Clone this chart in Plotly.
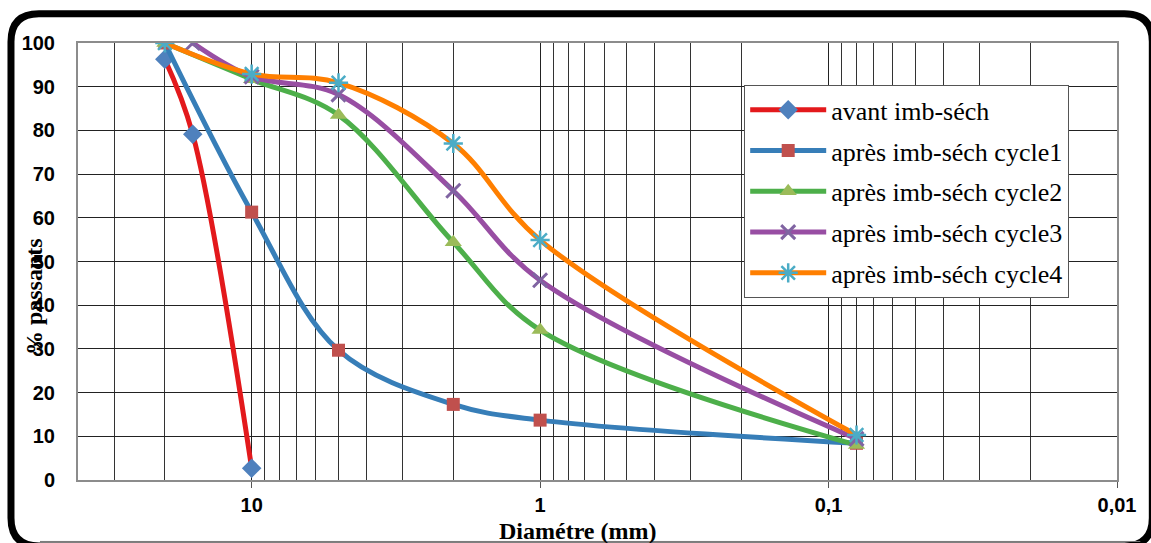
import math
import plotly.graph_objects as go

# ---- data ----
diam_avant = [20, 16, 10]
pass_avant = [96.3, 79.1, 2.7]

diam_cycles = [20, 10, 5, 2, 1, 0.08]
diam_cycle3 = [16, 10, 5, 2, 1, 0.08]
pass_cycle1 = [100, 61.3, 29.7, 17.3, 13.7, 8.4]
pass_cycle2 = [100, 91.7, 83.5, 54.4, 34.3, 8.0]
pass_cycle3 = [100, 92.3, 88.2, 66.2, 45.7, 9.4]
pass_cycle4 = [100, 92.9, 90.9, 77.0, 54.9, 10.3]

names = ["avant imb-séch", "après imb-séch cycle1", "après imb-séch cycle2",
         "après imb-séch cycle3", "après imb-séch cycle4"]
tick_vals = [10, 1, 0.1, 0.01]
tick_text = ["10", "1", "0,1", "0,01"]

W, H = 1151, 543
L, R, T, B = 78, 34.3, 42.7, 63
PW, PH = W - L - R, H - T - B


def px(xp):
    return (xp - L) / PW


def py(yp):
    return (H - B - yp) / PH


fig = go.Figure()
specs = [
    (diam_avant, pass_avant, "#E3191C", dict(symbol="diamond", size=15, color="#4F81BD")),
    (diam_cycles, pass_cycle1, "#377EB8", dict(symbol="square", size=13, color="#C0504D")),
    (diam_cycles, pass_cycle2, "#4DAF4A", dict(symbol="triangle-up", size=15, color="#9BBB59")),
    (diam_cycle3, pass_cycle3, "#984EA3", dict(symbol="x-thin-open", size=14, color="#8064A2", line=dict(width=3, color="#8064A2"))),
    (diam_cycles, pass_cycle4, "#FF7F00", dict(symbol="asterisk-open", size=16, color="#4BACC6", line=dict(width=2.5, color="#4BACC6"))),
]
for i, (xs, ys, lc, mk) in enumerate(specs):
    fig.add_trace(go.Scatter(
        x=xs, y=ys, mode="lines+markers", name=names[i], legendgroup=str(i),
        line=dict(color=lc, width=5, shape="spline", smoothing=1.0),
        marker=mk,
    ))

minor_vals = [m * 10 ** e for e in range(-2, 2) for m in range(2, 10)]

fig.update_xaxes(
    type="log", range=[math.log10(40), -2], autorange=False,
    tickvals=tick_vals, ticktext=tick_text,
    ticks="outside", ticklen=6, tickcolor="#555", tickwidth=1,
    tickfont=dict(family="Liberation Sans", size=20, color="black", weight="bold"),
    showgrid=True, gridcolor="#222", gridwidth=1,
    minor=dict(tickvals=minor_vals, showgrid=True, gridcolor="#333", gridwidth=1, ticks=""),
    showline=True, mirror=True, linecolor="#8c8c8c", linewidth=2,
    zeroline=False, ticklabelstandoff=0,
)
fig.update_yaxes(
    range=[0, 100], dtick=10, autorange=False,
    tickfont=dict(family="Liberation Sans", size=20, color="black", weight="bold"),
    showgrid=True, gridcolor="#222", gridwidth=1,
    showline=True, mirror=True, linecolor="#8c8c8c", linewidth=2,
    zeroline=False, ticks="", ticklabelstandoff=17,
)

# axis titles
fig.add_annotation(text="Diamétre (mm)", xref="paper", yref="paper",
                   x=px(577), y=py(531), xanchor="center", yanchor="middle",
                   showarrow=False,
                   font=dict(family="Liberation Serif", size=24, color="black", weight="bold"))
fig.add_annotation(text="% passants", xref="paper", yref="paper",
                   x=px(34), y=py(296), xanchor="center", yanchor="middle",
                   showarrow=False, textangle=-90,
                   font=dict(family="Liberation Serif", size=24, color="black", weight="bold"))

# outer rounded frame
r = 28
x0, x1, y0, y1 = 11, 1152, 13.5, 546
path = (f"M {px(x0)},{py(y0 + r)} Q {px(x0)},{py(y0)} {px(x0 + r)},{py(y0)} "
        f"L {px(x1 - r)},{py(y0)} Q {px(x1)},{py(y0)} {px(x1)},{py(y0 + r)} "
        f"L {px(x1)},{py(y1 - r)} Q {px(x1)},{py(y1)} {px(x1 - r)},{py(y1)} "
        f"L {px(x0 + r)},{py(y1)} Q {px(x0)},{py(y1)} {px(x0)},{py(y1 - r)} Z")
fig.add_shape(type="path", path=path, xref="paper", yref="paper",
              line=dict(color="black", width=7))
fig.add_shape(type="line", xref="paper", yref="paper",
              x0=px(40), x1=px(1140), y0=py(541.5), y1=py(541.5),
              line=dict(color="#777", width=1))

fig.update_layout(
    width=W, height=H,
    margin=dict(l=L, r=R, t=T, b=B),
    paper_bgcolor="white", plot_bgcolor="white",
    showlegend=True,
    legend=dict(
        x=px(744), y=py(85), xanchor="left", yanchor="top",
        bgcolor="white", bordercolor="#555", borderwidth=1,
        font=dict(family="Liberation Serif", size=26, color="black"),
        traceorder="grouped", tracegroupgap=4, itemwidth=76,
        entrywidth=345, entrywidthmode="pixels",
    ),
)

fig.write_html("out.html", config={"displayModeBar": False},
               post_script="document.body.style.margin='0';document.body.style.overflow='hidden';")
